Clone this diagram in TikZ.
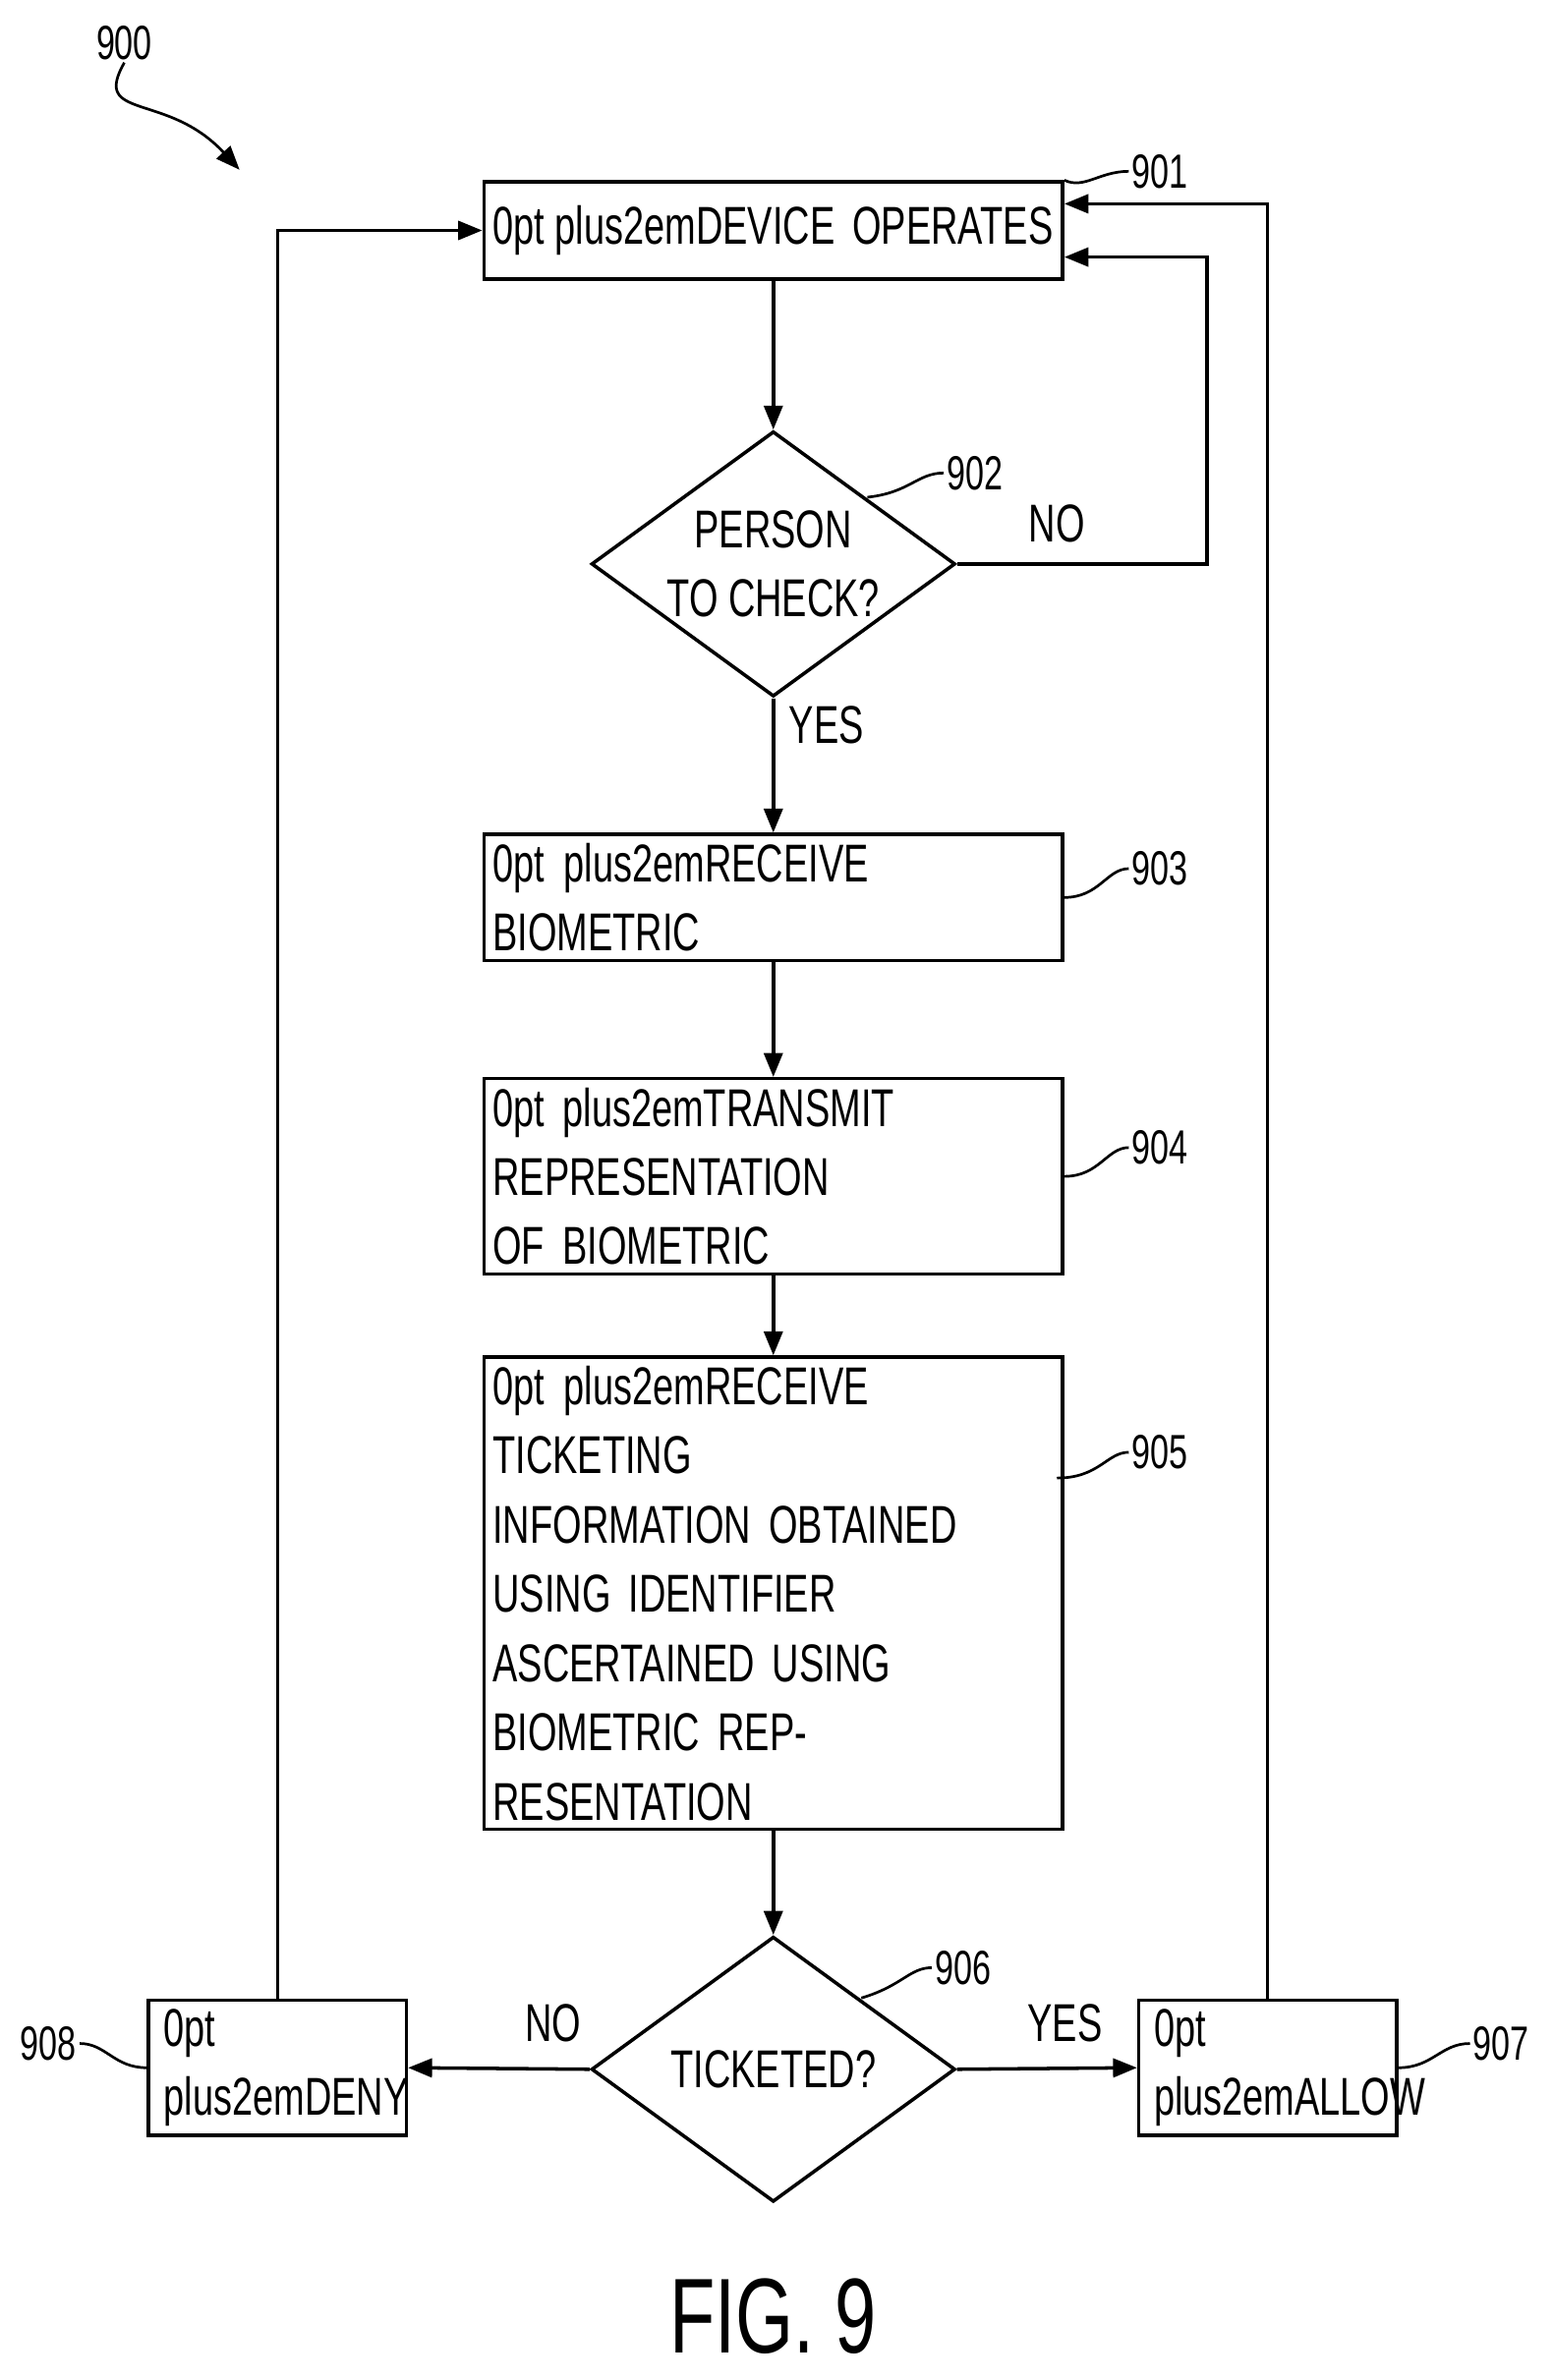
\documentclass[tikz,border=0pt]{standalone}
\usepackage{fontspec}
\setsansfont{Liberation Sans}[FakeStretch=0.7]
\usetikzlibrary{shapes.geometric,arrows.meta,positioning}
\tikzset{
  action/.style={draw, line width=1.3pt, minimum width=7.48cm, text width=7.4cm,
    align=center, font=\sffamily\fontsize{20}{26}\selectfont\hyphenpenalty=10000},
  check/.style={draw, diamond, line width=1.3pt, aspect=1.37, inner sep=0pt,
    minimum width=4.8cm, minimum height=3.5cm, align=center,
    font=\sffamily\fontsize{20}{26}\selectfont},
  refnum/.style={font=\sffamily\fontsize{18}{22}\selectfont, inner sep=1pt},
  line/.style={draw, line width=1.3pt, -{Triangle[length=9pt,width=7pt]}},
  lead/.style={draw, line width=1pt},
  tag/.style={font=\sffamily\fontsize{20}{24}\selectfont}
}
\begin{document}
\begin{tikzpicture}[x=0.02cm,y=-0.02cm]
  \useasboundingbox (0,0) rectangle (1024,1570);

  % Draw diagram elements
  \node (b901) [action, minimum height=1.28cm] at (510,152) {DEVICE OPERATES};
  \node (d902) [check] at (510,372) {PERSON\\TO CHECK?};
  \node (b903) [action, minimum height=1.3cm] at (510,592) {RECEIVE BIOMETRIC};
  \node (b904) [action, minimum height=2.06cm] at (510,776) {TRANSMIT REPRESENTATION\\OF BIOMETRIC};
  \node (b905) [action, minimum height=5.06cm] at (510,1051) {RECEIVE TICKETING\\INFORMATION OBTAINED\\USING IDENTIFIER\\ASCERTAINED USING\\BIOMETRIC REPRESENTATION};
  \node (d906) [check] at (510,1365) {TICKETED?};
  \node (b908) [action, minimum width=3.4cm, text width=3cm, minimum height=1.3cm] at (183,1364) {DENY};
  \node (b907) [action, minimum width=3.4cm, text width=3cm, minimum height=1.3cm] at (836,1364) {ALLOW};
  \node (fig) [font=\sffamily\fontsize{40}{44}\selectfont] at (510,1528) {FIG. 9};

  % Reference numerals
  \node (l900) [refnum] at (82,28) {900};
  \node (l901) [refnum] at (765,113) {901};
  \node (l902) [refnum] at (643,312) {902};
  \node (l903) [refnum] at (765,573) {903};
  \node (l904) [refnum] at (765,757) {904};
  \node (l905) [refnum] at (765,958) {905};
  \node (l906) [refnum] at (635,1298) {906};
  \node (l907) [refnum] at (990,1348) {907};
  \node (l908) [refnum] at (32,1348) {908};
  \coordinate (c900) at (158,112);
  \coordinate (c902) at (572,328);
  \coordinate (c906) at (568,1318);
  \coordinate (c905) at (697,975);

  % Draw arrows between elements
  \path [line] (b901) -- (d902);
  \path [line] (d902) -- node [tag, right=2pt, pos=0.2] {YES} (b903);
  \path [line] (b903) -- (b904);
  \path [line] (b904) -- (b905);
  \path [line] (b905) -- (d906);
  \path [line] (d902.east) -- node [tag, pos=0.4, above=4pt] {NO} ++(165,0) |- ([yshift=-10pt]b901.east);
  \path [line] (d906.west) -- node [tag, pos=0.2, above=6pt] {NO} (b908.east);
  \path [line] (d906.east) -- node [tag, pos=0.6, above=6pt] {YES} (b907.west);
  \path [line] (b908.north) |- (b901.west);
  \path [line] (b907.north) |- ([yshift=10pt]b901.east);

  % Leaders
  \path [lead, -{Triangle[length=9pt,width=7pt]}] (l900.south) .. controls (60,80) and (110,60) .. (c900);
  \path [lead] (l901.west) .. controls (725,113) and (715,125) .. (b901.north east);
  \path [lead] (l902.west) .. controls (605,312) and (600,325) .. (c902);
  \path [lead] (l903.west) .. controls (730,573) and (725,592) .. (b903.east);
  \path [lead] (l904.west) .. controls (730,757) and (725,776) .. (b904.east);
  \path [lead] (l905.west) .. controls (730,958) and (725,975) .. (c905);
  \path [lead] (l906.west) .. controls (600,1298) and (595,1310) .. (c906);
  \path [lead] (l907.west) .. controls (950,1348) and (945,1364) .. (b907.east);
  \path [lead] (l908.east) .. controls (70,1348) and (75,1364) .. (b908.west);
\end{tikzpicture}
\end{document}
